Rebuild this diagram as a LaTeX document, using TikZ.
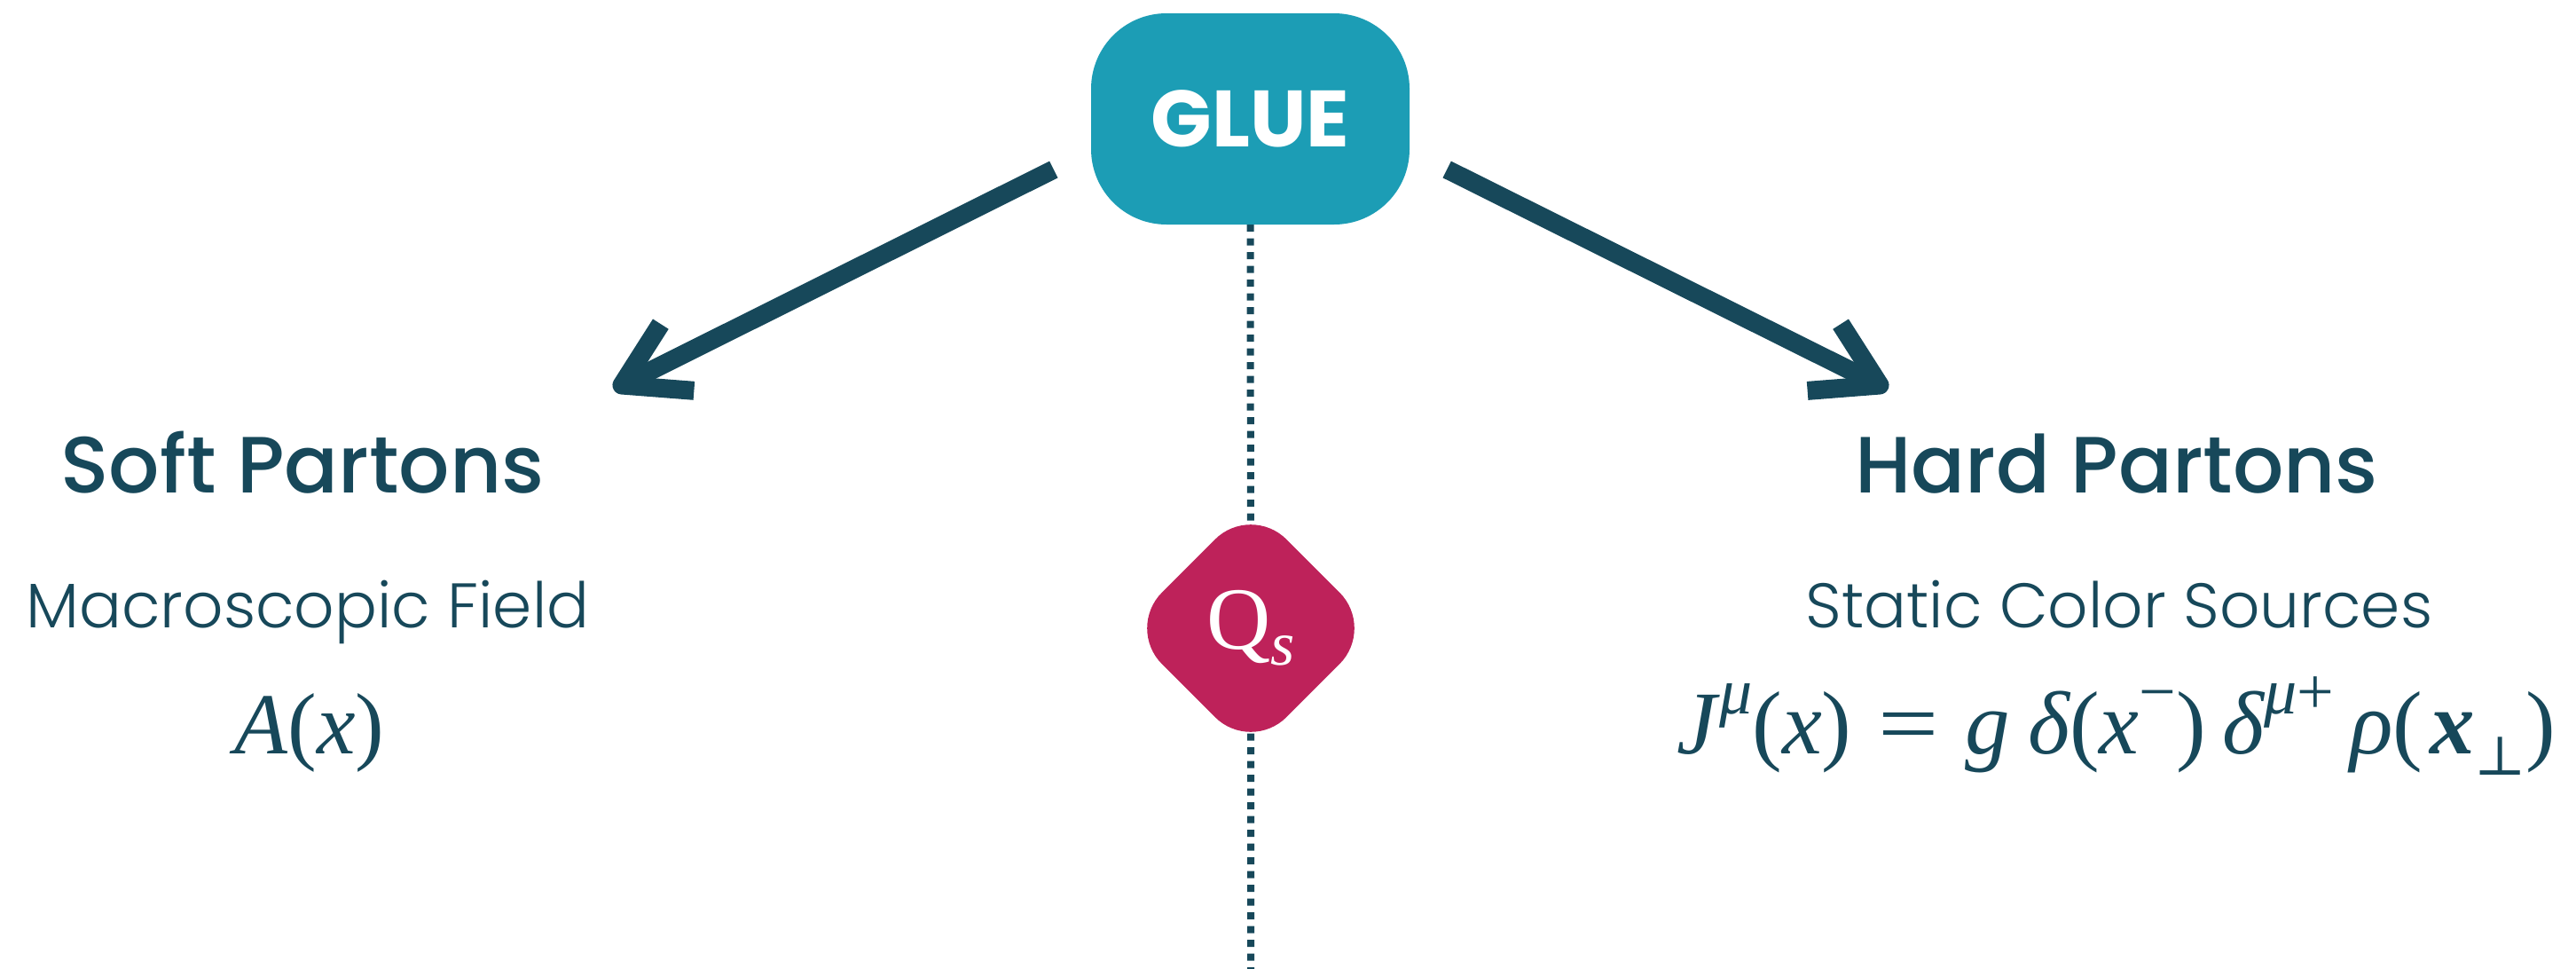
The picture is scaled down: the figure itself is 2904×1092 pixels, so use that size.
\documentclass[tikz,border=0pt]{standalone}
\usepackage{fontspec}
\setmainfont{Liberation Serif}
\newfontfamily\gluefont{Poppins Bold}
\newfontfamily\headfont{Poppins Medium}
\newfontfamily\subfont{Poppins Light}
\newfontfamily\perpfont{DejaVu Serif}
\newcommand\sups[1]{\raisebox{45pt}{\fontsize{74}{76}\selectfont #1}}
\newcommand\subperp{\raisebox{-24pt}{\perpfont\fontsize{62}{62}\selectfont ⊥}}
\usetikzlibrary{arrows.meta,shapes.geometric,backgrounds,calc}
\definecolor{ink}{HTML}{17485A}
\definecolor{glueblue}{HTML}{1C9DB5}
\definecolor{qsred}{HTML}{BE225A}
\begin{document}
\begin{tikzpicture}[x=1pt,y=-1pt,
  txt/.style={text=ink, inner sep=0pt, anchor=base},
  head/.style={txt, font=\headfont\fontsize{90}{100}\selectfont},
  sub/.style={txt, font=\subfont\fontsize{71}{80}\selectfont},
  eq/.style={txt, font=\fontsize{98}{110}\selectfont},
  gluebox/.style={fill=glueblue, text=white, rounded corners=85pt, minimum width=359pt, minimum height=238pt, inner sep=0pt, font=\gluefont\fontsize{90}{95}\selectfont},
  qsbox/.style={diamond, aspect=1, fill=qsred, text=white, rounded corners=57pt, minimum width=281pt, minimum height=281pt, inner sep=0pt, font=\fontsize{100}{110}\selectfont},
  flow/.style={draw=ink, line width=21pt, -{Straight Barb[length=70pt, width=84pt, line join=round]}},
  dots/.style={draw=ink, line width=8pt, dash pattern=on 8pt off 7.5pt}
]
\useasboundingbox (0,0) rectangle (2904,1092);
\node[gluebox] (glue) at (1409.5,134) {GLUE};
\node[qsbox] (qs) at (1410,708) {Q\raisebox{-18pt}{\fontsize{70}{70}\selectfont\itshape s}};
\coordinate (bot) at (1410,1092);
\coordinate (softtip) at (691.6,438.7);
\coordinate (hardtip) at (2128.4,438.7);

\node[head] (softh) at (341,555) {Soft Partons};
\node[sub] (softsub) at (347,707) {Macroscopic Field};
\node[eq] (softeq) at (349,849) {{\itshape A}(\textit{x}\/)};

\node[head] (hardh) at (2386,555) {Hard Partons};
\node[sub] (hardsub) at (2389,707) {Static Color Sources};
\node[eq, font=\fontsize{101}{110}\selectfont] (hardeq) at (2386,849) {{\itshape J}\hspace{3pt}\sups{\itshape μ}(\textit{x}\/)\hspace{30pt}\scalebox{1.2}[1]{=}\hspace{30pt}{\itshape g}\hspace{20pt}{\itshape δ}(\textit{x}\sups{−})\hspace{18pt}{\itshape δ}\sups{\itshape μ\upshape +}\hspace{18pt}{\itshape ρ}(\hspace{8pt}{\bfseries\itshape x}\subperp)};

\begin{scope}[on background layer]
\draw[dots] (glue.south) -- (qs.center) -- (bot);
\end{scope}
\draw[flow] ($(glue.west)+(-42,57)$) -- (softtip);
\draw[flow] ($(glue.east)+(42,57)$) -- (hardtip);
\end{tikzpicture}
\end{document}
